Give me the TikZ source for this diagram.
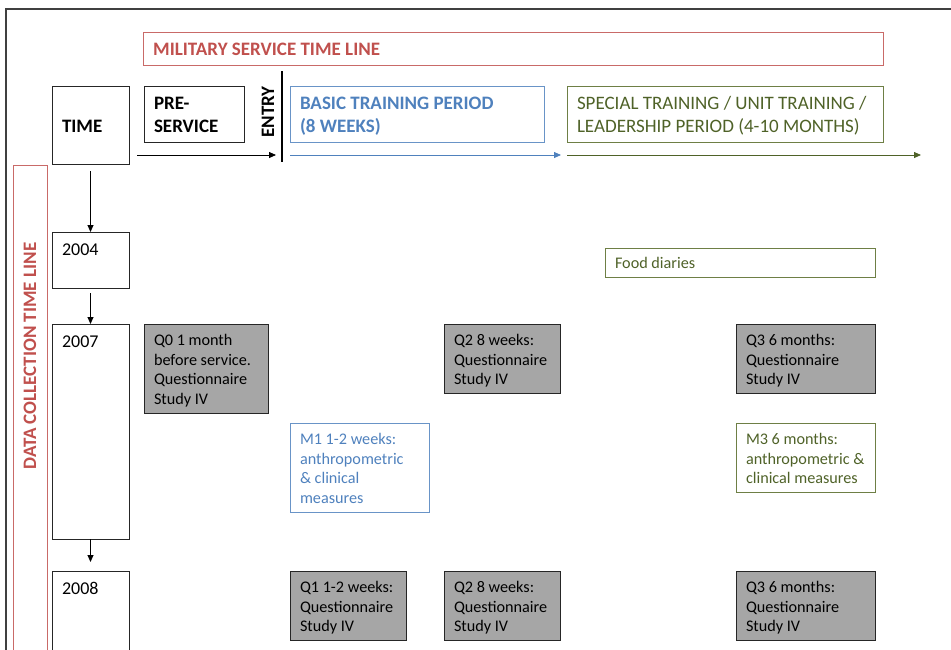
\documentclass[tikz,border=0pt]{standalone}
\usepackage{fontspec}
\setmainfont{Carlito}
\usetikzlibrary{arrows.meta}
\definecolor{msred}{HTML}{C0504D}
\definecolor{msblue}{HTML}{4F81BD}
\definecolor{msgreen}{HTML}{4F6228}
\definecolor{msgreenline}{HTML}{6E7F45}
\definecolor{msgray}{HTML}{A6A6A6}
\definecolor{msframe}{HTML}{404040}
\newcommand\fs[1]{\rule[-.3\baselineskip]{0pt}{\dimexpr\baselineskip+#1\relax}}
\newcommand\mybox[9]{% name, style, x, y, w, h, valign, fontcmd, text
  \pgfmathsetlengthmacro\myW{#5-20}%
  \pgfmathsetlengthmacro\myH{#6-12}%
  \node[#2, anchor=north west, inner xsep=10pt, inner ysep=6pt, outer sep=0pt] (#1) at (#3,#4)
    {\parbox[#7][\myH][#7]{\myW}{#8#9}};}
\tikzset{
  frameline/.style={draw=black!85, line width=0.8pt},
  graybox/.style={frameline, fill=msgray},
  plainbox/.style={frameline, fill=white},
  bluebox/.style={draw=msblue!85, line width=0.8pt, text=msblue},
  greenbox/.style={draw=msgreenline, line width=0.8pt, text=msgreen},
  redbox/.style={draw=msred!85, line width=0.9pt, text=msred},
  arr/.style={line width=0.8pt, -{Triangle[width=6pt,length=7pt]}},
}
\newcommand\datafont{\fontsize{16.2}{19.6}\selectfont}
\newcommand\yearfont{\fontsize{18}{22}\selectfont}
\newcommand\headfont{\fontsize{19}{23}\selectfont}
\newcommand\titlefont{\fontsize{19}{22}\selectfont\bfseries}
\begin{document}
\begin{tikzpicture}[x=1pt, y=-1pt]
\useasboundingbox (0,0) rectangle (951,649);
\clip (0,0) rectangle (951,649);
% outer frame
\draw[msframe, line width=1.4pt] (6,660) -- (6,9) -- (960,9);
% military service title
\node[redbox, anchor=north west, minimum width=740pt, minimum height=33pt, inner sep=0pt] (mil) at (143,32) {};
\node[anchor=west, text=msred, font=\titlefont, inner sep=0pt] (miltext) at (153,49) {MILITARY SERVICE TIME LINE};
% header boxes
\mybox{time}{plainbox}{52}{86}{77}{78}{c}{\headfont\bfseries}{\fs{6pt}TIME}
\mybox{pre}{plainbox}{144}{86}{100}{56}{c}{\headfont\bfseries}{\fs{5pt}PRE-\\\strut SERVICE}
\mybox{basic}{bluebox}{290}{86}{254}{56}{c}{\headfont\bfseries}{\fs{5pt}BASIC TRAINING PERIOD\\\strut (8 WEEKS)}
\mybox{special}{greenbox}{567}{86}{316}{56}{c}{\headfont}{\fs{5pt}SPECIAL TRAINING / UNIT TRAINING /\\\strut LEADERSHIP PERIOD (4-10 MONTHS)}
% entry
\node[rotate=90, font=\headfont\bfseries, inner sep=0pt] (entry) at (268,112) {ENTRY};
\coordinate (entrytop) at (282,71);
\coordinate (entrybot) at (282,162);
\draw[line width=2.6pt] (entrytop) -- (entrybot);
% timeline arrows
\coordinate (a0) at (137,155); \coordinate (a1) at (276,155);
\coordinate (b0) at (290,155); \coordinate (b1) at (561,155);
\coordinate (c0) at (567,155); \coordinate (c1) at (921,155);
\draw[arr] (a0) -- (a1);
\draw[arr, msblue] (b0) -- (b1);
\draw[arr, msgreen] (c0) -- (c1);
% data collection time line
\node[redbox, anchor=north west, minimum width=34pt, minimum height=500pt, inner sep=0pt] (dct) at (13,165) {};
\node[rotate=90, text=msred, font=\titlefont, inner sep=0pt] (dcttext) at (30,356) {DATA COLLECTION TIME LINE};
% year boxes
\mybox{y2004}{plainbox}{52}{232}{77}{56}{t}{\yearfont}{\fs{2pt}2004}
\mybox{y2007}{plainbox}{52}{324}{77}{215}{t}{\yearfont}{\fs{2pt}2007}
\mybox{y2008}{plainbox}{52}{571}{77}{100}{t}{\yearfont}{\fs{2pt}2008}
\draw[arr, shorten <=7pt] (time.south) -- (y2004.north);
\draw[arr, shorten <=5pt] (y2004.south) -- (y2007.north);
\draw[arr, shorten >=9pt] (y2007.south) -- (y2008.north);
% data boxes
\mybox{food}{greenbox}{605}{248}{270}{29}{t}{\datafont}{\fs{1pt}Food diaries}
\mybox{q0}{graybox}{144}{324}{124}{89}{t}{\datafont}{\fs{2pt}Q0 1 month\\\strut before service.\\\strut Questionnaire\\\strut Study IV}
\mybox{q2a}{graybox}{444}{324}{116}{69}{t}{\datafont}{\fs{2pt}Q2 8 weeks:\\\strut Questionnaire\\\strut Study IV}
\mybox{q3a}{graybox}{736}{324}{139}{69}{t}{\datafont}{\fs{2pt}Q3 6 months:\\\strut Questionnaire\\\strut Study IV}
\mybox{m1}{bluebox}{290}{423}{139}{89}{t}{\datafont}{\fs{2pt}M1 1-2 weeks:\\\strut anthropometric\\\strut \& clinical\\\strut measures}
\mybox{m3}{greenbox}{736}{423}{139}{69}{t}{\datafont}{\fs{2pt}M3 6 months:\\\strut anthropometric \&\\\strut clinical measures}
\mybox{q1b}{graybox}{290}{571}{116}{69}{t}{\datafont}{\fs{2pt}Q1 1-2 weeks:\\\strut Questionnaire\\\strut Study IV}
\mybox{q2b}{graybox}{444}{571}{116}{69}{t}{\datafont}{\fs{2pt}Q2 8 weeks:\\\strut Questionnaire\\\strut Study IV}
\mybox{q3b}{graybox}{736}{571}{139}{69}{t}{\datafont}{\fs{2pt}Q3 6 months:\\\strut Questionnaire\\\strut Study IV}
\end{tikzpicture}
\end{document}
